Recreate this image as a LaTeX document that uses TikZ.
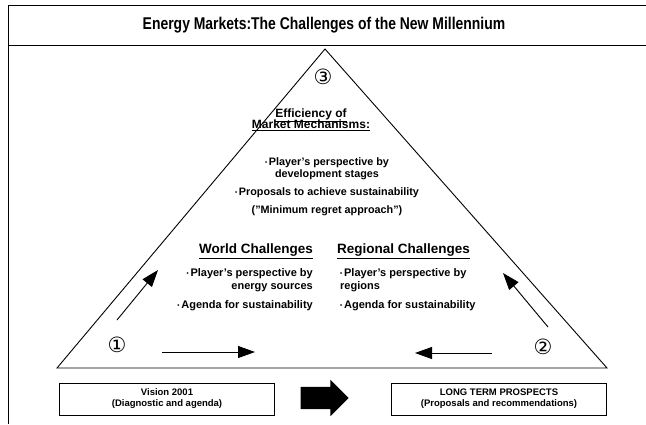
\documentclass[tikz,border=0pt]{standalone}
\usepackage{fontspec}
\setmainfont{Liberation Sans}
\newfontfamily\titlefont[FakeStretch=0.82]{Liberation Sans}
\newfontfamily\circfont{DejaVu Sans}
\usetikzlibrary{arrows.meta,shapes.arrows,positioning}

\newcommand\dotmark{\raisebox{0.2ex}{\fontsize{6}{6}\selectfont\textbullet}\,}

\begin{document}
\begin{tikzpicture}[x=1pt,y=-1pt,
        frame/.style = {line width=0.9pt},
        heading/.style = {font=\bfseries\fontsize{13.5}{11}\selectfont, align=center, inner sep=0pt},
        items/.style = {font=\bfseries\fontsize{11}{13}\selectfont, inner sep=0pt},
        stage/.style = {font=\circfont\fontsize{21}{21}\selectfont, inner sep=0pt},
        flow/.style = {-{Triangle[length=17pt,width=12pt]}, line width=0.9pt},
        report/.style = {draw, line width=0.9pt, minimum width=215pt, minimum height=32pt,
                         align=center, font=\bfseries\fontsize{9.5}{11}\selectfont},
        bigarrow/.style = {single arrow, fill=black, inner sep=11pt, minimum height=48pt,
                           single arrow head extend=7pt, single arrow tip angle=90},
        ]
        \useasboundingbox (0,0) rectangle (646,424);
        % frame and title
        \draw[frame] (646,5) -- (8,5) -- (8,424);
        \draw[frame] (8,45) -- (646,45);
        \node[font=\titlefont\bfseries\fontsize{17}{17}\selectfont] (title) at (324,25)
            {Energy Markets:The Challenges of the New Millennium};

        % triangle
        \coordinate (apex) at (325,49);
        \coordinate (lcorner) at (57,368);
        \coordinate (rcorner) at (607,368);
        \draw[frame] (apex) -- (rcorner) -- (lcorner) -- cycle;

        % stages
        \node[stage] (s3) at (323,77) {③};
        \node[stage] (s1) at (117,345) {①};
        \node[stage] (s2) at (543,347) {②};

        % top corner
        \node[heading, font=\bfseries\fontsize{12}{11}\selectfont] (effhead) at (311,120)
            {\underline{Efficiency of}\\[-3pt]\underline{Market Mechanisms:}};
        \node[items, align=center, font=\bfseries\fontsize{10.8}{12}\selectfont] (efftext) at (327,187)
            {\dotmark Player's perspective by\\ development stages\\[6pt]
             \dotmark Proposals to achieve sustainability\\[6pt]
             ("Minimum regret approach")};

        % lower corners
        \node[heading, anchor=south east] (worldhead) at (313,259) {\underline{World Challenges}};
        \node[items, align=right, below left=9pt and 0pt of worldhead.south east] (worldtext)
            {\dotmark Player's perspective by\\ energy sources\\[6pt]
             \dotmark Agenda for sustainability};
        \node[heading, anchor=south west] (regionhead) at (337,259) {\underline{Regional Challenges}};
        \node[items, align=left, below right=9pt and 3pt of regionhead.south west] (regiontext)
            {\dotmark Player's perspective by\\ regions\\[6pt]
             \dotmark Agenda for sustainability};

        % arrows inside the triangle
        \coordinate (up1) at (117,320);
        \coordinate (up1end) at (158,270);
        \coordinate (up2) at (548,327);
        \coordinate (up2end) at (503,273);
        \coordinate (go1) at (162,352);
        \coordinate (go1end) at (255,352);
        \coordinate (go2) at (492,353);
        \coordinate (go2end) at (415,353);
        \draw[flow] (up1) -- (up1end);
        \draw[flow] (up2) -- (up2end);
        \draw[flow] (go1) -- (go1end);
        \draw[flow] (go2) -- (go2end);

        % reports
        \node[report] (vision) at (167,399) {Vision 2001\\(Diagnostic and agenda)};
        \node[report] (prospects) at (499,399) {LONG TERM PROSPECTS\\(Proposals and recommendations)};
        \node[bigarrow] (push) at (319,398) {};
    \end{tikzpicture}
\end{document}
